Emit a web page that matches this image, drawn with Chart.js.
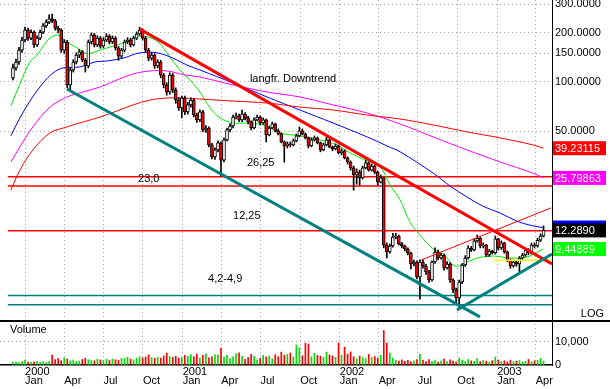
<!DOCTYPE html>
<html><head><meta charset="utf-8">
<script src="https://cdn.jsdelivr.net/npm/chart.js@4.4.1/dist/chart.umd.min.js"></script>
<style>html,body{margin:0;padding:0;background:#fff;overflow:hidden}</style>
</head><body>
<canvas id="c" width="610" height="389" style="display:block;width:610px;height:389px"></canvas>
<script>
const FONT = '"Liberation Sans", Arial, sans-serif';

// ---- weekly candles (week index 0 = early Dec 1999) ----
const open = [105.8,122,132.7,157,181,208,186,202,169,186,
202,221,233,244,237,214,208,157,176,95.9,
118.5,132.7,146,153,136.5,125.5,176,194,169,186,
166,181,191,176,186,162,144,157,176,181,
169,186,197,208,186,157,140,146,125.5,132.7,
110.4,95.9,86.8,110.4,89.3,77.5,69.3,79.8,65.5,72.3,
77.5,62.7,58.5,65.5,50.8,52.2,41.1,34.7,38.3,42.3,
33.2,44.1,50.8,53.7,61.0,61.9,58.5,63.6,60.2,56.8,
52.2,58.5,61.0,56.0,58.5,47.3,52.2,55.3,50.1,48.0,
42.9,40.5,41.7,41.1,43.5,46.7,50.1,48.0,45.4,40.5,
44.1,45.4,42.3,38.3,41.1,44.1,40.0,38.9,40.5,36.7,
37.8,34.2,32.3,29.7,26.9,28.0,25.8,29.7,31.9,28.8,
30.5,28.0,24.3,25.8,10.0,9.06,9.86,11.2,11.35,10.15,
9.86,9.45,8.93,7.65,7.87,6.36,7.87,7.43,6.83,6.10,
7.87,9.06,8.32,8.68,7.23,7.65,6.10,5.30,4.73,5.93,
7.54,8.32,9.59,9.32,10.6,11.0,9.86,10.0,8.68,9.19,
8.93,10.9,9.59,10.3,9.06,8.09,7.43,7.87,7.65,8.32,
8.68,9.32,8.93,10.0,9.86,10.7,11.35];
const close = [122,132.7,157,181,208,186,202,169,186,202,
221,233,244,237,214,208,157,176,95.9,118.5,
132.7,146,153,136.5,125.5,176,194,169,186,166,
181,191,176,186,162,144,157,176,181,169,
186,197,208,186,157,140,146,125.5,132.7,110.4,
95.9,86.8,110.4,89.3,77.5,69.3,79.8,65.5,72.3,77.5,
62.7,58.5,65.5,50.8,52.2,41.1,34.7,38.3,42.3,33.2,
44.1,50.8,53.7,61.0,61.9,58.5,63.6,60.2,56.8,52.2,
58.5,61.0,56.0,58.5,47.3,52.2,55.3,50.1,48.0,42.9,
40.5,41.7,41.1,43.5,46.7,50.1,48.0,45.4,40.5,44.1,
45.4,42.3,38.3,41.1,44.1,40.0,38.9,40.5,36.7,37.8,
34.2,32.3,29.7,26.9,28.0,25.8,29.7,31.9,28.8,30.5,
28.0,24.3,25.8,10.0,9.06,9.86,11.2,11.35,10.15,9.86,
9.45,8.93,7.65,7.87,6.36,7.87,7.43,6.83,6.10,7.87,
9.06,8.32,8.68,7.23,7.65,6.10,5.30,4.73,5.93,7.54,
8.32,9.59,9.32,10.6,11.0,9.86,10.0,8.68,9.19,8.93,
10.9,9.59,10.3,9.06,8.09,7.43,7.87,7.65,8.32,8.68,
9.32,8.93,10.0,9.86,10.7,11.35,12.289];
const high = [129,138,163,188,217,214,209,206,192,208,
228,241,258,261,242,220,212,182,180,122,
137,151,158,156,139,181,200,199,192,190,
187,198,195,192,190,165,161,181,187,186,
191,203,217,212,190,161,151,149,137,136,
113,99,114,113,92,80,82,82,75,80,
79,64.5,67.5,67,54,53,42,39.5,43.5,43,
45.4,52.2,55.3,62.7,64.5,63.6,67.3,65,61.5,57.7,
60.2,62.7,62,60.2,59.3,53.7,56.8,56,51.5,48.7,
43.5,42.9,42.9,44.7,48.0,53,51.5,48.7,46.0,45.4,
46.7,46.0,42.9,42.3,46.0,44.7,40.5,41.7,41.1,38.9,
38.3,34.7,32.8,30.5,29.3,28.8,30.5,33.2,32.3,31.4,
31.0,28.4,26.9,26.1,10.3,10.15,11.8,11.8,11.5,10.4,
10.0,9.6,9.06,8.09,8.0,8.1,8.1,7.6,7.0,8.0,
9.6,9.3,8.9,8.8,7.9,7.8,6.2,5.45,6.1,7.7,
8.6,9.9,9.8,10.9,11.5,11.2,10.3,10.1,9.4,9.3,
11.35,11.0,10.6,10.4,9.2,8.2,8.1,8.0,8.5,8.9,
9.6,9.5,10.3,10.3,11.0,11.7,13.1];
const low = [103,118,128,152,176,180,182,163,165,182,
198,216,228,231,208,200,152,150,91.9,89.3,
115,129,141,133,115,122,171,164,165,161,
162,177,171,172,157,136,140,153,172,164,
166,182,193,181,152,135,136,121,122,106,
92,83,84,86,74,67,60.2,63,63.5,70,
61,56.5,57,49.5,49,40,33.7,33.5,37.3,26.5,
32.3,43.5,49.4,52.2,59.3,57,57,58.5,55.3,50.8,
51.5,57.7,54.5,55,42.9,46.7,51.5,49.4,47.3,42.3,
32.3,39.4,40.0,40.5,42.9,46.0,47.3,44.7,39.4,40.0,
43.5,41.7,37.3,37.8,40.5,39.4,37.8,38.3,36.2,35.7,
33.7,31.4,28.8,21.7,23.6,23.3,25.4,29.3,28.4,28.4,
27.3,23.3,24.0,9.6,8.32,8.9,9.7,10.9,10.0,9.6,
9.2,8.7,7.13,7.43,6.2,4.66,7.2,6.6,5.9,6.0,
7.7,8.1,8.2,7.0,7.1,5.9,5.1,4.41,4.05,5.8,
7.4,8.2,9.1,9.2,10.4,9.6,9.6,8.5,8.5,8.8,
8.8,9.3,9.4,8.9,7.9,7.2,7.3,7.4,6.83,8.1,
8.5,8.7,8.8,9.6,9.7,10.5,11.2];
const volume = [1200,1300,1100,1500,2200,1300,1200,1400,1600,1200,1400,1000,1500,
4300,
2400,2800,1900,3100,2600,1800,2200,1500,1700,2400,2900,2300,2000,1800,2600,
2200,1900,2500,2000,2600,2300,2100,2900,2800,3400,2600,2200,3000,3600,
3100,3500,4400,3200,2900,3400,3000,3900,5200,3600,3300,3800,3000,
3300,4200,3800,4500,3500,4800,3000,4200,4900,3100,3600,4400,4400,7400,3400,4200,2800,
3600,4900,5300,3800,2500,3200,4600,3800,2300,2900,4200,3500,3900,2700,4500,3600,5600,4300,
4600,5200,3500,8700,7400,4000,9500,9100,3600,5100,
4200,3800,3300,5600,4400,3900,3300,9600,4300,7800,4700,5700,
3600,2700,3900,3300,2800,4600,3200,3700,3000,4200,
15000,9500,5200,
3000,2100,1700,2200,1600,2000,1400,1800,2400,
4600,
2000,1500,2400,1600,2100,1300,1800,2600,1500,2200,1700,1400,3000,2100,1500,2400,1800,1600,2800,1500,2000,1700,1300,1900,3400,2200,1600,1800,1400,2100,1500,1700,1900,1300,1600,2400,1500,1800,2000,2900,1700];

// ---- moving averages ----
const maGreenWeek = [-0.7,2.3,5.6,8.0,10.0,12.3,14.9,17.9,21.2,24.6,27.2,32.2,36.5,42.1,47.8,52.1,55.4,58.7,62.0,65.4,68.7,73.0,78.6,84.3,88.6,95.2,101.9,107.5,111.8,116.8,121.8,125.1,128.4,131.7,135.0,139.4,142.7,146.7,150.6,154.0,159.3,164.9,170.5,175.9];
const maGreenVal  = [71.2,97.2,132.7,146,166,186,194,176,162,149,153,164,173,191,178,142,118.5,102.9,86.8,69.3,60.2,56.0,56.0,53.7,48.7,46.7,44.1,41.1,36.7,33.2,30.1,23.3,18.9,13.8,11.5,9.45,8.81,7.43,7.87,8.32,8.56,8.32,8.44,9.44889];
const maBlueWeek = [-0.7,2.3,6.3,10.0,13.3,16.6,22.2,27.2,31.2,36.5,42.1,47.8,53.1,57.7,62.0,73.0,84.3,95.2,106.2,117.5,124.1,128.4,139.4,145.0,150.6,155.9,161.6,167.2,172.5,175.9];
const maBlueVal  = [46.7,60.2,79.8,98.6,113.6,122,123.7,132.7,134.6,140,151,151,140,127,118.5,98.6,80.9,67.3,56.0,46.0,40.5,37.3,27.6,23.0,19.7,17.3,15.7,14.0,13.1,12.8];
const maMagWeek = [-0.7,2.3,6.6,12.3,17.9,23.2,28.9,34.5,39.8,45.5,51.1,57.1,62.0,73.0,84.3,95.2,106.2,117.5,128.4,139.4,150.6,161.6,172.5,175.9];
const maMagVal  = [32.3,40.0,53.0,70.2,80.9,86.8,93.2,102.9,112,116.9,116.9,110.4,107.3,95.9,86.8,80.9,72.3,64.5,55.3,46.0,38.3,32.3,27.6,25.79863];
const maRedWeek = [-0.7,2.3,6.6,12.3,17.9,23.2,28.9,34.5,39.8,45.5,51.1,56.4,62.0,73.0,84.3,95.2,106.2,117.5,128.4,139.4,150.6,161.6,172.5,175.9];
const maRedVal  = [21.7,28.8,38.3,48.7,53.0,56.8,61.0,66.4,72.3,77.5,79.8,79.8,78.6,76.4,74.3,70.2,67.3,62.7,59.3,54.5,49.4,45.4,41.1,39.23115];

// ---- drawn trend lines & levels ----
const trendDownWeek = [42.1,178.8], trendDownVal = [211,7.65];
const trendTealWeek = [17.9,154.9], trendTealVal = [90.6,3.62];
const trendUpWeek = [147.3,178.8], trendUpVal = [3.99,8.81];
const channelWeek = [135.4,178.5], channelVal = [8.09,16.9];
const yellowWeek = [159.3,178.8], yellowVal = [8.05,8.05];
const levelWeek = [-1.7,178.8];
const redLevels = [26.25,23.0,12.25];
const tealLevels = [4.9,4.3];

const notes = [
  {text:'langfr. Downtrend', week:78.6, value:100},
  {text:'26,25', week:77.6, value:30.5},
  {text:'23,0', week:41.5, value:24.3},
  {text:'12,25', week:73.0, value:14.5},
  {text:'4,2-4,9', week:64.7, value:5.93}
];

// ---- axis ticks ----
const tickWeeks = [4.0,17.0,30.0,43.1,56.3,69.1,82.1,95.3,108.4,121.3,134.3,147.4,160.6,173.4];
const tickYears = ['2000','','','','2001','','','','2002','','','','2003',''];
const tickMonths = ['Jan','Apr','Jul','Oct','Jan','Apr','Jul','Oct','Jan','Apr','Jul','Oct','Jan','Apr'];
const priceTicks = [50,100,150,200,300];
const volumeTicks = [0,5000,10000];
const volumeLabeled = [0,10000];

const up = close.map((c,i)=> c >= open[i]);
const pts = (w,v)=> w.map((x,i)=>({x:x, y:v[i]}));
const lineDs = (w,v,color,width,order,tension)=>({type:'line', data:pts(w,v), borderColor:color, borderWidth:width, pointRadius:0, tension:tension||0, order:order, yAxisID:'y', xAxisID:'x', fill:false});

const datasets = [];
// volume
datasets.push({type:'bar', yAxisID:'yv', xAxisID:'x', data: volume.map((v,i)=>({x:i,y:v})), backgroundColor: up.map(u=>u?'#00dd00':'#ff0000'), barThickness:1, grouped:false, order:7});
// levels
levelWeek && redLevels.forEach(l=> datasets.push(lineDs(levelWeek,[l,l],'#ff0000',1.5,6)));
tealLevels.forEach(l=> datasets.push(lineDs(levelWeek,[l,l],'#008080',1.5,6)));
// MAs
datasets.push(lineDs(maRedWeek,maRedVal,'#ff0000',1,5,0.35));
datasets.push(lineDs(maMagWeek,maMagVal,'#ff00ff',1,5,0.35));
datasets.push(lineDs(maBlueWeek,maBlueVal,'#0000ff',1,5,0.35));
datasets.push(lineDs(maGreenWeek,maGreenVal,'#00ee00',1,5,0.35));
// wicks and bodies
datasets.push({type:'bar', yAxisID:'y', xAxisID:'x', data: high.map((h,i)=>({x:i,y:[low[i],h]})), backgroundColor:'#000', barThickness:1, grouped:false, order:4});
datasets.push({type:'bar', yAxisID:'y', xAxisID:'x', data: close.map((c,i)=>({x:i,y:[open[i],c]})), backgroundColor: up.map(u=>u?'#ffffff':'#ff0000'), borderColor:'#000', borderWidth:1, borderSkipped:false, barThickness:3, grouped:false, order:3});
// trend lines on top
datasets.push(lineDs(trendTealWeek,trendTealVal,'#008080',3,1));
datasets.push(lineDs(trendUpWeek,trendUpVal,'#008080',3,1));
datasets.push(lineDs(trendDownWeek,trendDownVal,'#ff0000',3,1));
datasets.push(lineDs(channelWeek,channelVal,'#ff0000',1,1));
datasets.push(lineDs(yellowWeek,yellowVal,'#ffff00',1.5,1));

const GRID = '#aaaaaa';
const overlay = {
  id:'overlay',
  afterDraw(chart){
    const {ctx, chartArea:ca} = chart;
    const x = chart.scales.x, y = chart.scales.y, yv = chart.scales.yv;
    ctx.save();
    ctx.strokeStyle='#000'; ctx.lineWidth=2;
    ctx.beginPath(); ctx.moveTo(0, yv.top); ctx.lineTo(chart.width, yv.top); ctx.stroke();
    ctx.font = '11px '+FONT; ctx.fillStyle='#000'; ctx.textAlign='left'; ctx.textBaseline='alphabetic';
    notes.forEach(n=> ctx.fillText(n.text, x.getPixelForValue(n.week), y.getPixelForValue(n.value)));
    ctx.fillText('Volume', ca.left+10, yv.top+12);
    ctx.textAlign='right';
    ctx.fillText('LOG', chart.width-6, y.bottom-4);
    const L = a=>a[a.length-1];
    const boxes = [
      {v:L(maRedVal), t:L(maRedVal).toFixed(5), bg:'#ff0000'},
      {v:L(maMagVal), t:L(maMagVal).toFixed(5), bg:'#ff00ff'},
      {v:L(maBlueVal), t:L(maBlueVal).toFixed(5), bg:'#0000ff'},
      {v:L(close), t:L(close).toFixed(4), bg:'#000000'},
      {v:L(maGreenVal), t:L(maGreenVal).toFixed(5), bg:'#00ff00'}
    ];
    ctx.textAlign='left'; ctx.textBaseline='middle';
    boxes.forEach(b=>{
      const py = y.getPixelForValue(b.v);
      ctx.fillStyle=b.bg; ctx.fillRect(ca.right+1, py-7, 53, 14);
      ctx.fillStyle='#ffffff'; ctx.fillText(b.t, ca.right+3, py+1);
    });
    ctx.restore();
  }
};

new Chart(document.getElementById('c'), {
  type:'bar',
  data:{datasets},
  plugins:[overlay],
  options:{
    responsive:false, animation:false, events:[], devicePixelRatio:1,
    layout:{padding:0},
    plugins:{legend:{display:false}, tooltip:{enabled:false}},
    scales:{
      x:{type:'linear', min:-4.3, max:178.8, offset:false, position:'bottom',
        grid:{offset:false, color:GRID, drawTicks:false},
        border:{display:true, color:'#000', width:1.5, dash:[1,3]},
        ticks:{align:'start', padding:2, autoSkip:false, maxRotation:0, color:'#000', font:{family:FONT, size:11, lineHeight:0.85},
          callback:(v,i)=>[tickYears[i], tickMonths[i]]},
        afterBuildTicks:s=>{s.ticks = tickWeeks.map(v=>({value:v}));},
        afterFit:s=>{s.height=24; s.paddingLeft=0; s.paddingRight=0;}
      },
      y:{type:'logarithmic', position:'right', stack:'p', stackWeight:321, min:3.418, max:318.4,
        grid:{color:GRID, drawTicks:false},
        border:{display:true, color:'#000', width:1, dash:[1,3]},
        ticks:{padding:3, color:'#000', font:{family:FONT, size:11}, callback:v=>Number(v).toFixed(4)},
        afterBuildTicks:s=>{s.ticks = priceTicks.map(v=>({value:v}));},
        afterFit:s=>{s.width=58; s.paddingTop=0; s.paddingBottom=0;}
      },
      yv:{type:'linear', position:'right', stack:'p', stackWeight:44, min:0, max:19130,
        grid:{color:c=> c.tick && c.tick.value===0 ? 'rgba(0,0,0,0)' : GRID, drawTicks:false},
        border:{display:true, color:'#000', width:1, dash:[1,3]},
        ticks:{padding:3, color:'#000', font:{family:FONT, size:11},
          callback:v=> volumeLabeled.includes(v) ? v.toLocaleString('en-US') : ''},
        afterBuildTicks:s=>{s.ticks = volumeTicks.map(v=>({value:v}));},
        afterFit:s=>{s.width=58; s.paddingTop=0; s.paddingBottom=0;}
      }
    }
  }
});
</script>
</body></html>
